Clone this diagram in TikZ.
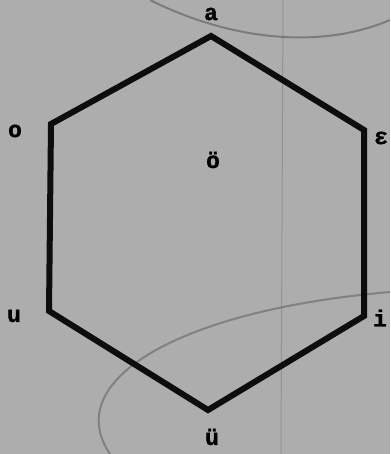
\documentclass[tikz,border=0pt]{standalone}
\usepackage{fontspec}
\newfontfamily\vowelfont[FakeBold=1.2]{Liberation Mono Bold}
\usetikzlibrary{calc}

\tikzset{
  vowel/.style={font=\vowelfont\fontsize{23}{23}\selectfont,inner sep=0pt},
  edge/.style={line width=6pt,line join=miter,black!95}
}

\begin{document}
\begin{tikzpicture}[x=1pt,y=-1pt]
  % background
  \fill[gray!64] (0,0) rectangle (390,454);
  \useasboundingbox (0,0) rectangle (390,454);

  % faint marks on the sheet
  \draw[gray!60!black,line width=2pt,opacity=0.5] (150,0) .. controls (230,40) and (320,50) .. (390,20);
  \draw[gray!60!black,line width=2pt,opacity=0.45] (110,454) .. controls (60,380) and (180,310) .. (390,292);
  \draw[gray!70!black,line width=1pt,opacity=0.3] (283,0) -- (281,454);

  % corners
  \coordinate (A) at (211,36);
  \coordinate (E) at (364,130);
  \coordinate (I) at (364,316);
  \coordinate (UE) at (208,410);
  \coordinate (U) at (49,311);
  \coordinate (O) at (51,124);

  % hexagon
  \draw[edge] (A) -- (E) -- (I) -- (UE) -- (U) -- (O) -- cycle;

  % vowels
  \node[vowel] (a) at (211,14) {a};
  \node[vowel] (eps) at (381,138) {ε};
  \node[vowel] (i) at (380,318) {i};
  \node[vowel] (ue) at (212,437) {ü};
  \node[vowel] (u) at (14,316) {u};
  \node[vowel] (o) at (15,131) {o};
  \node[vowel] (oe) at (213,160) {ö};
\end{tikzpicture}
\end{document}
